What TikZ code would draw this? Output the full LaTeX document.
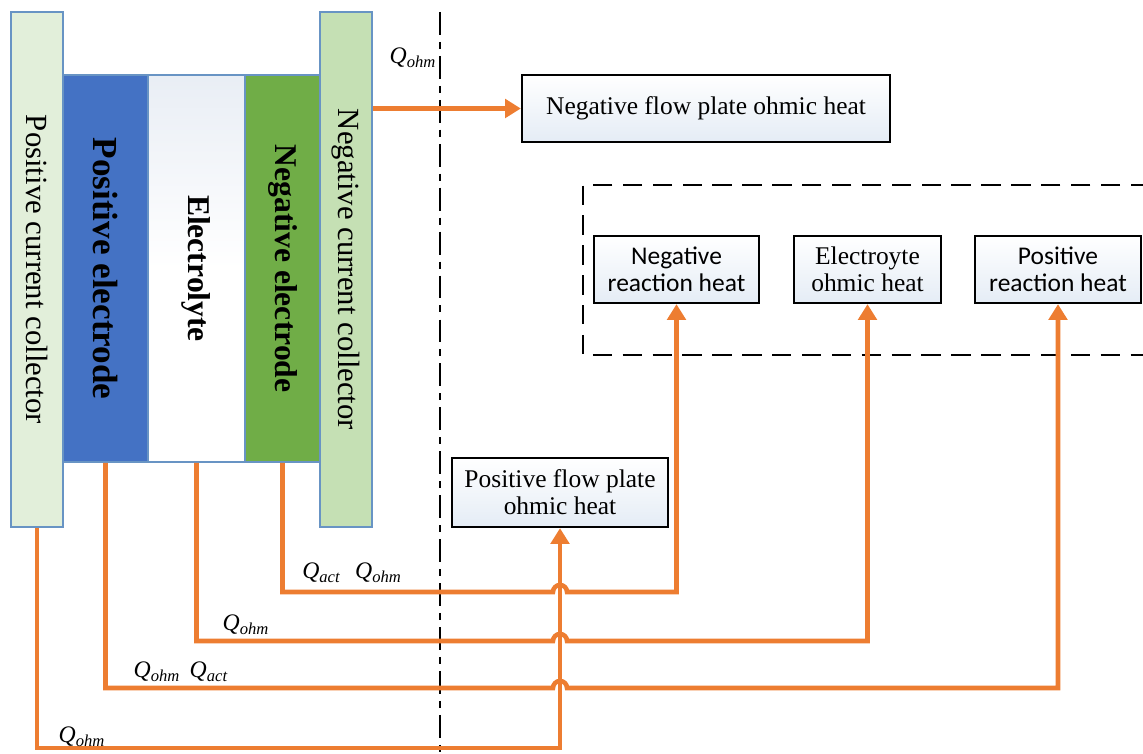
\documentclass[tikz,border=0pt]{standalone}
\usepackage{graphicx}
\usepackage{fontspec}
\setmainfont{Liberation Serif}
\newfontfamily\carlito{Carlito}
\definecolor{hforange}{RGB}{237,125,49}
\definecolor{poselec}{RGB}{68,114,196}
\definecolor{negelec}{RGB}{112,173,71}
\definecolor{poscoll}{RGB}{226,239,218}
\definecolor{negcoll}{RGB}{197,224,180}
\definecolor{cellline}{RGB}{104,148,196}
\definecolor{elyshade}{RGB}{218,226,238}
\definecolor{boxshade}{RGB}{214,226,240}
\usetikzlibrary{arrows.meta,calc}
\newcommand{\Qsub}[1]{\textit{Q}\textsubscript{\textit{#1}}}

\begin{document}
\begin{tikzpicture}[
    cell/.style={draw=cellline, line width=1pt, minimum height=7.74cm, inner sep=0pt},
    collector/.style={draw=cellline, line width=1pt, minimum width=1.04cm, minimum height=10.3cm, inner sep=0pt, font=\fontsize{17.5}{20}\selectfont},
    heatbox/.style={draw=black, line width=1.3pt, top color=white, bottom color=boxshade!65, minimum height=1.34cm, align=center, font=\fontsize{14.5}{15.5}\selectfont},
    sansbox/.style={font=\carlito\fontsize{14.5}{15.5}\selectfont},
    flow/.style={draw=hforange, line width=2.6pt, -{Triangle[width=10.5pt,length=9pt]}},
    qlabel/.style={font=\fontsize{13.5}{15}\selectfont, inner sep=1pt},
  ]
  \useasboundingbox (0,0) rectangle (22.86,15.06);

  % Cell layers
  \node[cell, minimum width=1.70cm, fill=poselec, font=\bfseries\fontsize{20}{22}\selectfont] (pel) at (2.11,9.69) {\rotatebox{-90}{Positive electrode}};
  \node[cell, minimum width=1.94cm, top color=elyshade!60, bottom color=white, middle color=white, font=\bfseries\fontsize{18}{20}\selectfont] (ely) at (3.93,9.69) {\rotatebox{-90}{Electrolyte}};
  \node[cell, minimum width=1.50cm, fill=negelec, font=\bfseries\fontsize{18}{20}\selectfont] (nel) at (5.65,9.69) {\rotatebox{-90}{Negative electrode}};
  \node[collector, fill=poscoll] (pcc) at (0.74,9.67) {\rotatebox{-90}{Positive current collector}};
  \node[collector, fill=negcoll] (ncc) at (6.92,9.67) {\rotatebox{-90}{Negative current collector}};

  % Divider
  \coordinate (dtop) at (8.80,14.82);
  \coordinate (dbot) at (8.80,0);
  \draw[line width=1.5pt, dash pattern=on 13pt off 4pt on 4pt off 4pt] (dtop) -- (dbot);

  % Heat sources
  \node[heatbox, minimum width=7.36cm] (nfp) at (14.12,12.89) {Negative flow plate ohmic heat};
  \draw[line width=1pt, dash pattern=on 11pt off 6pt] (23,11.36) -- (11.66,11.36) -- (11.66,7.96) -- (23,7.96);
  \node[heatbox, sansbox, minimum width=3.30cm] (nrh) at (13.53,9.67) {Negative\\reaction heat};
  \node[heatbox, minimum width=2.94cm] (eoh) at (17.35,9.67) {Electroyte\\ohmic heat};
  \node[heatbox, sansbox, minimum width=3.32cm] (prh) at (21.16,9.67) {Positive\\reaction heat};
  \node[heatbox, minimum width=4.32cm, minimum height=1.38cm] (pfp) at (11.20,5.21) {Positive flow plate\\ohmic heat};

  % Heat flows
  \coordinate (r1) at (0,3.22);
  \coordinate (r2) at (0,2.24);
  \coordinate (r3) at (0,1.30);
  \coordinate (r4) at (0,0.10);
  \draw[flow] (ncc.east |- nfp.west) -- (nfp.west);
  \draw[flow] (nel.south) -- (nel.south |- r1) -- ($(pfp.south |- r1)+(-0.14,0)$) arc[start angle=180, end angle=0, radius=0.14] -| (nrh.south);
  \draw[flow] (ely.south) -- (ely.south |- r2) -- ($(pfp.south |- r2)+(-0.14,0)$) arc[start angle=180, end angle=0, radius=0.14] -| (eoh.south);
  \draw[flow] (pel.south) -- (pel.south |- r3) -- ($(pfp.south |- r3)+(-0.14,0)$) arc[start angle=180, end angle=0, radius=0.14] -| (prh.south);
  \draw[flow] (pcc.south) -- (pcc.south |- r4) -| (pfp.south);

  \node[qlabel] (q0) at (8.26,13.90) {\Qsub{ohm}};
  \node[qlabel] (q1) at (7.04,3.60) {\Qsub{act}\hspace{0.6em}\Qsub{ohm}};
  \node[qlabel] (q2) at (4.92,2.56) {\Qsub{ohm}};
  \node[qlabel] (q3) at (3.62,1.62) {\Qsub{ohm}\hspace{0.4em}\Qsub{act}};
  \node[qlabel] (q4) at (1.64,0.32) {\Qsub{ohm}};
\end{tikzpicture}
\end{document}
